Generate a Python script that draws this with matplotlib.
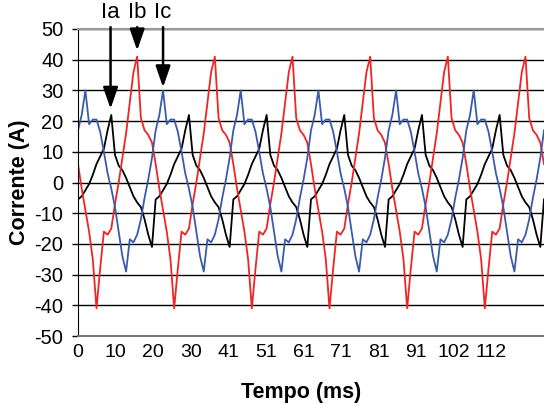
import matplotlib
matplotlib.use('Agg')
import matplotlib.pyplot as plt

plt.rcParams['font.family'] = ['Liberation Sans', 'DejaVu Sans']
plt.rcParams['axes.unicode_minus'] = False

# tempo em ms, uma amostra por ms
tempo = list(range(127))

# Ia - preto
ia = [
    -5.5, -4.5, -2.5, -0.5, 2.5, 6, 8.5, 11, 17, 22, 9, 5.5, 4, 1.5, -1.5, -4.5, -6.5, -8, -12, -17, -21,
    -5.5, -4.5, -2.5, -0.5, 2.5, 6, 8.5, 11, 17, 22, 9, 5.5, 4, 1.5, -1.5, -4.5, -6.5, -8, -12, -17, -21,
    -5.5, -4.5, -2.5, -0.5, 2.5, 6, 8.5, 11, 17, 22, 9, 5.5, 4, 1.5, -1.5, -4.5, -6.5, -8, -12, -17, -21,
    -5.5, -4.5, -2.5, -0.5, 2.5, 6, 8.5, 11, 17, 22, 9, 5.5, 4, 1.5, -1.5, -4.5, -6.5, -8, -12, -17, -21,
    -5.5, -4.5, -2.5, -0.5, 2.5, 6, 8.5, 11, 17, 22, 9, 5.5, 4, 1.5, -1.5, -4.5, -6.5, -8, -12, -17, -21,
    -5.5, -4.5, -2.5, -0.5, 2.5, 6, 8.5, 11, 17, 22, 9, 5.5, 4, 1.5, -1.5, -4.5, -6.5, -8, -12, -17, -21,
    -5.5,
]

# Ib - vermelho
ib = [
    6, -2, -9, -16, -25, -41, -28, -16, -17, -15, -7, 0, 8, 16, 26, 36, 41, 21, 17, 15.5, 13,
    6, -2, -9, -16, -25, -41, -28, -16, -17, -15, -7, 0, 8, 16, 26, 36, 41, 21, 17, 15.5, 13,
    6, -2, -9, -16, -25, -41, -28, -16, -17, -15, -7, 0, 8, 16, 26, 36, 41, 21, 17, 15.5, 13,
    6, -2, -9, -16, -25, -41, -28, -16, -17, -15, -7, 0, 8, 16, 26, 36, 41, 21, 17, 15.5, 13,
    6, -2, -9, -16, -25, -41, -28, -16, -17, -15, -7, 0, 8, 16, 26, 36, 41, 21, 17, 15.5, 13,
    6, -2, -9, -16, -25, -41, -28, -16, -17, -15, -7, 0, 8, 16, 26, 36, 41, 21, 17, 15.5, 13,
    6,
]

# Ic - azul
ic = [
    17, 22, 30, 19, 20.5, 20.5, 16.5, 10, 3, -2, -8, -16, -24, -29, -18.5, -19.5, -17, -12, -5, 1, 8,
    17, 22, 30, 19, 20.5, 20.5, 16.5, 10, 3, -2, -8, -16, -24, -29, -18.5, -19.5, -17, -12, -5, 1, 8,
    17, 22, 30, 19, 20.5, 20.5, 16.5, 10, 3, -2, -8, -16, -24, -29, -18.5, -19.5, -17, -12, -5, 1, 8,
    17, 22, 30, 19, 20.5, 20.5, 16.5, 10, 3, -2, -8, -16, -24, -29, -18.5, -19.5, -17, -12, -5, 1, 8,
    17, 22, 30, 19, 20.5, 20.5, 16.5, 10, 3, -2, -8, -16, -24, -29, -18.5, -19.5, -17, -12, -5, 1, 8,
    17, 22, 30, 19, 20.5, 20.5, 16.5, 10, 3, -2, -8, -16, -24, -29, -18.5, -19.5, -17, -12, -5, 1, 8,
    17,
]

xtick_pos = [0, 10.16, 20.32, 30.48, 40.64, 50.8, 60.96, 71.12, 81.28, 91.44, 101.6, 111.76]
xtick_lab = ['0', '10', '20', '30', '41', '51', '61', '71', '81', '91', '102', '112']
ytick_pos = [-50, -40, -30, -20, -10, 0, 10, 20, 30, 40, 50]

# setas: (rotulo, t, corrente na ponta)
setas = [('Ia', 8.8, 24), ('Ib', 16.0, 43), ('Ic', 23.0, 31)]

fig = plt.figure(figsize=(5.44, 4.05), dpi=100)
ax = fig.add_axes([78 / 544, 1 - 336 / 405, 1 - 78 / 544, 307 / 405])

ax.plot(tempo, ia, color='black', lw=1.3)
ax.plot(tempo, ib, color='#f02424', lw=1.3)
ax.plot(tempo, ic, color='#3a5aac', lw=1.3)

ax.set_xlim(0, 126)
ax.set_ylim(-50, 50)
ax.set_yticks(ytick_pos)
ax.set_xticks(xtick_pos)
ax.set_xticklabels(xtick_lab)
ax.tick_params(axis='x', length=0, pad=6, labelsize=14)
ax.tick_params(axis='y', length=4.5, width=1, pad=6, labelsize=14.5, direction='out')

ax.set_axisbelow(True)
ax.grid(axis='y', color='black', lw=1)

ax.spines['right'].set_visible(False)
ax.spines['top'].set_color('#999999')
ax.spines['top'].set_linewidth(1.5)
ax.spines['bottom'].set_color('#777777')
ax.spines['bottom'].set_linewidth(1.5)
ax.spines['left'].set_color('black')

ax.set_xlabel('Tempo (ms)', fontsize=15.5, fontweight='bold')
ax.xaxis.set_label_coords(0.479, -0.15)
ax.set_ylabel('Corrente (A)', fontsize=15.5, fontweight='bold')
ax.yaxis.set_label_coords(-0.103, 0.5)

for nome, t, v in setas:
    ax.annotate('', xy=(t, v), xytext=(t, 50.6), annotation_clip=False,
                arrowprops=dict(arrowstyle='-|>,head_length=1.3,head_width=0.45',
                                color='black', lw=1.8, shrinkA=0, shrinkB=0))
    ax.text(t, 52, nome, ha='center', va='bottom', fontsize=16, clip_on=False)

fig.savefig('out.png', dpi=100)
